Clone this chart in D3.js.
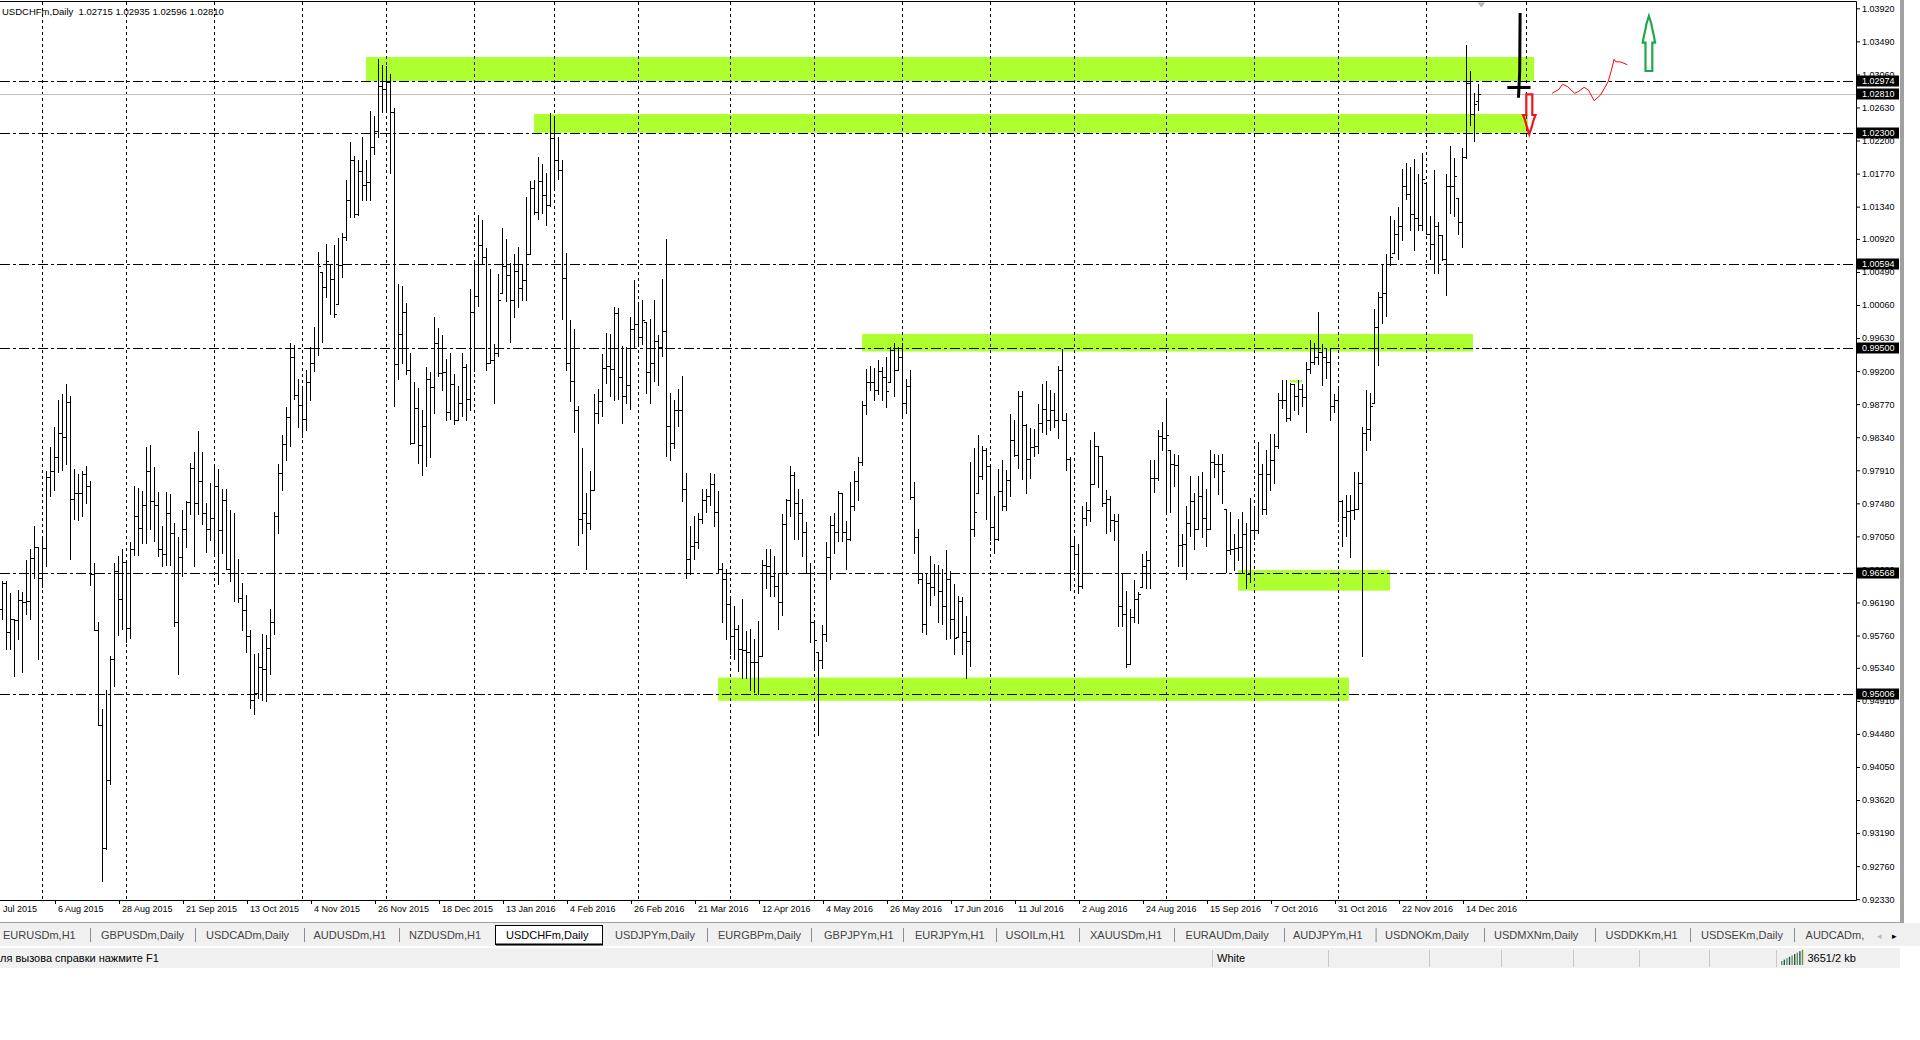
<!DOCTYPE html>
<html><head><meta charset="utf-8">
<script src="https://cdn.jsdelivr.net/npm/d3@7"></script>
<style>
html,body{margin:0;padding:0;background:#fff;}
svg{display:block;font-family:"Liberation Sans",Arial,sans-serif;}
</style></head><body>
<svg id="c" width="1920" height="1040"></svg>
<script>
// ---------------- DATA (USDCHFm, Daily) ----------------
const high=[0.9647,0.9647,0.9631,0.9597,0.9635,0.9632,0.9674,0.9689,0.9718,0.9691,
0.9704,0.9790,0.9821,0.9847,0.9883,0.9890,0.9903,0.9888,0.9793,0.9786,
0.9790,0.9797,0.9777,0.9671,0.9594,0.9480,0.9505,0.9550,0.9671,0.9679,
0.9689,0.9672,0.9698,0.9770,0.9768,0.9764,0.9821,0.9824,0.9795,0.9763,
0.9718,0.9763,0.9760,0.9723,0.9704,0.9739,0.9751,0.9801,0.9815,0.9842,
0.9815,0.9749,0.9775,0.9796,0.9793,0.9766,0.9766,0.9739,0.9736,0.9675,
0.9645,0.9629,0.9583,0.9552,0.9553,0.9578,0.9577,0.9610,0.9737,0.9799,
0.9837,0.9873,0.9957,0.9954,0.9910,0.9899,0.9921,0.9951,0.9978,1.0075,
1.0049,1.0086,1.0059,1.0084,1.0093,1.0100,1.0169,1.0218,1.0200,1.0194,
1.0225,1.0194,1.0259,1.0252,1.0326,1.0318,1.0317,1.0306,1.0262,1.0033,
1.0031,1.0009,0.9944,0.9906,0.9898,0.9870,0.9925,0.9919,0.9991,0.9976,
0.9967,0.9936,0.9944,0.9916,0.9901,0.9943,0.9929,1.0027,1.0064,1.0123,
1.0117,1.0080,1.0053,0.9955,1.0046,1.0106,1.0092,1.0061,1.0073,1.0082,
1.0059,1.0147,1.0167,1.0168,1.0199,1.0189,1.0178,1.0256,1.0252,1.0224,
1.0194,1.0074,0.9986,0.9975,0.9874,0.9820,0.9762,0.9790,0.9890,0.9897,
0.9942,0.9970,0.9968,1.0004,1.0002,0.9953,0.9952,0.9990,1.0039,1.0010,
1.0013,0.9984,0.9988,1.0013,0.9967,1.0040,1.0092,0.9891,0.9882,0.9897,
0.9914,0.9788,0.9718,0.9732,0.9736,0.9767,0.9767,0.9788,0.9786,0.9764,
0.9670,0.9663,0.9627,0.9615,0.9590,0.9623,0.9582,0.9584,0.9571,0.9595,
0.9674,0.9688,0.9688,0.9679,0.9658,0.9734,0.9753,0.9797,0.9789,0.9767,
0.9753,0.9724,0.9670,0.9593,0.9554,0.9590,0.9698,0.9731,0.9735,0.9764,
0.9762,0.9725,0.9776,0.9790,0.9808,0.9881,0.9923,0.9927,0.9924,0.9935,
0.9926,0.9938,0.9951,0.9956,0.9952,0.9956,0.9910,0.9922,0.9776,0.9715,
0.9658,0.9658,0.9679,0.9669,0.9668,0.9663,0.9687,0.9660,0.9643,0.9627,
0.9626,0.9602,0.9802,0.9820,0.9837,0.9823,0.9820,0.9798,0.9758,0.9793,
0.9805,0.9791,0.9864,0.9856,0.9894,0.9894,0.9851,0.9846,0.9845,0.9877,
0.9903,0.9907,0.9895,0.9891,0.9927,0.9949,0.9865,0.9808,0.9704,0.9695,
0.9745,0.9750,0.9830,0.9841,0.9822,0.9809,0.9765,0.9758,0.9734,0.9734,
0.9656,0.9634,0.9611,0.9648,0.9633,0.9682,0.9686,0.9805,0.9805,0.9843,
0.9854,0.9884,0.9818,0.9812,0.9811,0.9708,0.9745,0.9783,0.9761,0.9784,
0.9789,0.9767,0.9817,0.9812,0.9811,0.9812,0.9740,0.9737,0.9708,0.9728,
0.9737,0.9722,0.9755,0.9744,0.9828,0.9799,0.9818,0.9838,0.9838,0.9892,
0.9908,0.9908,0.9905,0.9903,0.9908,0.9903,0.9932,0.9960,0.9957,0.9997,
0.9955,0.9949,0.9949,0.9890,0.9900,0.9752,0.9759,0.9759,0.9789,0.9789,
0.9847,0.9896,0.9892,1.0001,1.0023,1.0059,1.0073,1.0122,1.0116,1.0134,
1.0183,1.0191,1.0185,1.0196,1.0176,1.0204,1.0165,1.0122,1.0181,1.0114,
1.0097,1.0177,1.0213,1.0197,1.0145,1.0210,1.0344,1.0311,1.0282,1.02935];

const low=[0.9598,0.9558,0.9559,0.9523,0.9571,0.9528,0.9604,0.9597,0.9651,0.9546,
0.9639,0.9667,0.9757,0.9765,0.9789,0.9791,0.9799,0.9676,0.9727,0.9726,
0.9732,0.9749,0.9642,0.9583,0.9459,0.9257,0.9298,0.9383,0.9510,0.9577,
0.9585,0.9567,0.9573,0.9681,0.9681,0.9697,0.9697,0.9714,0.9699,0.9679,
0.9666,0.9668,0.9668,0.9589,0.9526,0.9653,0.9691,0.9734,0.9667,0.9734,
0.9721,0.9685,0.9700,0.9683,0.9643,0.9684,0.9663,0.9647,0.9621,0.9620,
0.9583,0.9554,0.9482,0.9474,0.9495,0.9492,0.9491,0.9526,0.9578,0.9709,
0.9765,0.9804,0.9823,0.9884,0.9847,0.9834,0.9843,0.9883,0.9920,0.9941,
0.9958,1.0017,0.9994,0.9990,1.0007,1.0042,1.0090,1.0120,1.0120,1.0123,
1.0142,1.0142,1.0142,1.0202,1.0224,1.0257,1.0259,1.0178,0.9874,0.9910,
0.9931,0.9916,0.9825,0.9827,0.9801,0.9785,0.9796,0.9808,0.9866,0.9913,
0.9895,0.9857,0.9858,0.9851,0.9856,0.9862,0.9856,0.9870,0.9920,1.0005,
1.0061,0.9922,0.9931,0.9879,0.9940,1.0021,1.0011,0.9958,0.9990,1.0003,
1.0013,1.0013,1.0072,1.0125,1.0118,1.0126,1.0110,1.0135,1.0157,1.0170,
0.9988,0.9922,0.9881,0.9841,0.9694,0.9710,0.9662,0.9715,0.9765,0.9853,
0.9861,0.9905,0.9887,0.9883,0.9884,0.9853,0.9878,0.9871,0.9950,0.9956,
0.9955,0.9892,0.9878,0.9907,0.9902,0.9940,0.9809,0.9804,0.9820,0.9849,
0.9751,0.9651,0.9656,0.9675,0.9690,0.9723,0.9737,0.9746,0.9719,0.9658,
0.9593,0.9571,0.9552,0.9546,0.9530,0.9521,0.9521,0.9505,0.9502,0.9500,
0.9549,0.9638,0.9627,0.9627,0.9585,0.9603,0.9656,0.9732,0.9702,0.9702,
0.9680,0.9658,0.9568,0.9532,0.9446,0.9534,0.9569,0.9650,0.9684,0.9699,
0.9699,0.9663,0.9700,0.9739,0.9752,0.9798,0.9864,0.9895,0.9882,0.9890,
0.9883,0.9873,0.9906,0.9887,0.9922,0.9859,0.9865,0.9754,0.9683,0.9645,
0.9581,0.9578,0.9616,0.9629,0.9594,0.9591,0.9571,0.9573,0.9552,0.9574,
0.9552,0.9521,0.9536,0.9706,0.9762,0.9780,0.9728,0.9700,0.9683,0.9700,
0.9739,0.9739,0.9758,0.9810,0.9794,0.9780,0.9762,0.9781,0.9809,0.9813,
0.9841,0.9838,0.9843,0.9847,0.9833,0.9857,0.9792,0.9635,0.9662,0.9631,
0.9638,0.9720,0.9725,0.9773,0.9769,0.9745,0.9709,0.9712,0.9700,0.9588,
0.9588,0.9535,0.9539,0.9593,0.9592,0.9639,0.9638,0.9638,0.9763,0.9778,
0.9817,0.9737,0.9737,0.9770,0.9667,0.9667,0.9649,0.9706,0.9689,0.9714,
0.9704,0.9693,0.9714,0.9782,0.9760,0.9748,0.9659,0.9682,0.9661,0.9674,
0.9657,0.9638,0.9646,0.9701,0.9710,0.9734,0.9734,0.9765,0.9774,0.9820,
0.9872,0.9855,0.9857,0.9869,0.9864,0.9874,0.9841,0.9918,0.9929,0.9929,
0.9902,0.9911,0.9857,0.9867,0.9725,0.9693,0.9705,0.9678,0.9728,0.9741,
0.9549,0.9818,0.9830,0.9879,0.9928,0.9983,0.9992,1.0058,1.0074,1.0066,
1.0090,1.0144,1.0103,1.0077,1.0103,1.0104,1.0099,1.0066,1.0048,1.0047,
1.0064,1.0019,1.0126,1.0122,1.0099,1.0081,1.0197,1.0240,1.0220,1.02596];

const open=[0.9610,0.9645,0.9581,0.9597,0.9596,0.9622,0.9620,0.9621,0.9677,0.9691,
0.9651,0.9690,0.9782,0.9790,0.9808,0.9840,0.9834,0.9880,0.9753,0.9762,
0.9761,0.9786,0.9771,0.9656,0.9583,0.9459,0.9300,0.9388,0.9545,0.9660,
0.9624,0.9672,0.9586,0.9688,0.9732,0.9716,0.9746,0.9790,0.9751,0.9746,
0.9689,0.9682,0.9736,0.9710,0.9593,0.9678,0.9715,0.9750,0.9794,0.9749,
0.9777,0.9735,0.9715,0.9729,0.9771,0.9713,0.9752,0.9663,0.9658,0.9657,
0.9625,0.9609,0.9575,0.9492,0.9501,0.9535,0.9533,0.9560,0.9593,0.9731,
0.9788,0.9825,0.9860,0.9938,0.9889,0.9876,0.9858,0.9906,0.9931,0.9950,
1.0049,1.0030,1.0059,1.0040,1.0007,1.0058,1.0095,1.0143,1.0195,1.0124,
1.0180,1.0162,1.0166,1.0212,1.0233,1.0291,1.0287,1.0296,1.0257,0.9929,
0.9968,0.9997,0.9921,0.9827,0.9872,0.9824,0.9849,0.9910,0.9899,0.9957,
0.9917,0.9919,0.9867,0.9903,0.9856,0.9879,0.9926,0.9884,0.9997,1.0018,
1.0084,1.0069,0.9931,0.9935,0.9943,1.0021,1.0057,1.0045,1.0013,1.0050,
1.0028,1.0038,1.0072,1.0158,1.0127,1.0167,1.0149,1.0136,1.0223,1.0195,
1.0182,1.0041,0.9930,0.9907,0.9869,0.9728,0.9736,0.9723,0.9765,0.9866,
0.9881,0.9924,0.9927,0.9923,0.9996,0.9912,0.9887,0.9902,0.9975,0.9981,
0.9964,0.9984,0.9919,0.9931,0.9959,0.9952,0.9972,0.9849,0.9826,0.9870,
0.9870,0.9767,0.9675,0.9692,0.9698,0.9727,0.9752,0.9757,0.9773,0.9737,
0.9662,0.9650,0.9617,0.9576,0.9585,0.9559,0.9557,0.9555,0.9541,0.9541,
0.9550,0.9668,0.9667,0.9653,0.9641,0.9619,0.9721,0.9752,0.9785,0.9748,
0.9736,0.9711,0.9658,0.9593,0.9554,0.9544,0.9578,0.9678,0.9720,0.9711,
0.9761,0.9711,0.9701,0.9745,0.9777,0.9802,0.9876,0.9906,0.9906,0.9895,
0.9920,0.9912,0.9906,0.9947,0.9922,0.9938,0.9879,0.9900,0.9756,0.9704,
0.9650,0.9591,0.9645,0.9639,0.9658,0.9634,0.9615,0.9650,0.9597,0.9574,
0.9621,0.9581,0.9569,0.9715,0.9762,0.9784,0.9817,0.9796,0.9717,0.9702,
0.9764,0.9744,0.9779,0.9831,0.9811,0.9887,0.9850,0.9806,0.9821,0.9822,
0.9853,0.9871,0.9856,0.9869,0.9857,0.9922,0.9857,0.9806,0.9693,0.9682,
0.9640,0.9729,0.9739,0.9773,0.9822,0.9809,0.9748,0.9753,0.9726,0.9725,
0.9615,0.9604,0.9539,0.9600,0.9624,0.9639,0.9666,0.9674,0.9781,0.9781,
0.9835,0.9833,0.9818,0.9799,0.9798,0.9694,0.9695,0.9722,0.9751,0.9715,
0.9758,0.9729,0.9715,0.9802,0.9799,0.9799,0.9740,0.9687,0.9689,0.9690,
0.9691,0.9708,0.9656,0.9713,0.9713,0.9786,0.9740,0.9786,0.9805,0.9822,
0.9883,0.9882,0.9859,0.9903,0.9888,0.9897,0.9886,0.9923,0.9932,0.9939,
0.9945,0.9939,0.9932,0.9874,0.9883,0.9751,0.9730,0.9738,0.9739,0.9740,
0.9774,0.9839,0.9845,0.9879,0.9978,1.0016,1.0021,1.0060,1.0074,1.0098,
1.0109,1.0161,1.0150,1.0124,1.0119,1.0110,1.0165,1.0099,1.0085,1.0109,
1.0097,1.0066,1.0161,1.0161,1.0145,1.0114,1.0198,1.0295,1.0255,1.02715];

const close=[0.9645,0.9581,0.9597,0.9596,0.9622,0.9620,0.9621,0.9677,0.9691,0.9651,
0.9690,0.9782,0.9790,0.9808,0.9840,0.9834,0.9880,0.9753,0.9762,0.9761,
0.9786,0.9771,0.9656,0.9583,0.9459,0.9300,0.9388,0.9545,0.9660,0.9624,
0.9672,0.9586,0.9688,0.9732,0.9716,0.9746,0.9790,0.9751,0.9746,0.9689,
0.9682,0.9736,0.9710,0.9593,0.9678,0.9715,0.9750,0.9794,0.9749,0.9777,
0.9735,0.9715,0.9729,0.9771,0.9713,0.9752,0.9663,0.9658,0.9657,0.9625,
0.9609,0.9575,0.9492,0.9501,0.9535,0.9533,0.9560,0.9593,0.9731,0.9788,
0.9825,0.9860,0.9938,0.9889,0.9876,0.9858,0.9906,0.9931,0.9950,1.0057,
1.0030,1.0063,1.0040,0.9994,1.0058,1.0095,1.0143,1.0195,1.0124,1.0180,
1.0162,1.0166,1.0212,1.0233,1.0291,1.0287,1.0296,1.0257,0.9929,0.9968,
0.9997,0.9921,0.9827,0.9872,0.9824,0.9849,0.9910,0.9899,0.9957,0.9917,
0.9919,0.9867,0.9903,0.9856,0.9879,0.9926,0.9884,0.9997,1.0018,1.0084,
1.0069,0.9931,0.9935,0.9943,1.0012,1.0057,1.0045,1.0013,1.0050,1.0028,
1.0038,1.0072,1.0158,1.0127,1.0167,1.0149,1.0136,1.0223,1.0195,1.0182,
1.0041,0.9930,0.9907,0.9869,0.9728,0.9736,0.9723,0.9765,0.9866,0.9881,
0.9924,0.9927,0.9923,0.9996,0.9912,0.9887,0.9902,0.9975,0.9981,0.9964,
0.9987,0.9919,0.9931,0.9959,0.9952,0.9972,0.9849,0.9826,0.9870,0.9870,
0.9767,0.9675,0.9692,0.9698,0.9727,0.9752,0.9757,0.9773,0.9737,0.9662,
0.9650,0.9617,0.9576,0.9585,0.9559,0.9557,0.9555,0.9541,0.9541,0.9550,
0.9668,0.9667,0.9653,0.9641,0.9619,0.9721,0.9752,0.9785,0.9748,0.9736,
0.9711,0.9658,0.9594,0.9570,0.9544,0.9578,0.9678,0.9720,0.9711,0.9761,
0.9711,0.9701,0.9745,0.9777,0.9802,0.9876,0.9906,0.9906,0.9895,0.9920,
0.9912,0.9894,0.9947,0.9922,0.9938,0.9879,0.9900,0.9756,0.9704,0.9650,
0.9591,0.9645,0.9639,0.9658,0.9634,0.9615,0.9650,0.9597,0.9573,0.9621,
0.9581,0.9569,0.9715,0.9737,0.9784,0.9817,0.9796,0.9717,0.9702,0.9764,
0.9744,0.9779,0.9831,0.9811,0.9887,0.9850,0.9806,0.9821,0.9822,0.9853,
0.9871,0.9856,0.9869,0.9857,0.9922,0.9857,0.9806,0.9693,0.9682,0.9640,
0.9729,0.9739,0.9773,0.9822,0.9809,0.9748,0.9753,0.9726,0.9725,0.9615,
0.9604,0.9539,0.9600,0.9624,0.9630,0.9666,0.9674,0.9781,0.9781,0.9835,
0.9833,0.9837,0.9799,0.9798,0.9694,0.9695,0.9722,0.9751,0.9715,0.9758,
0.9729,0.9715,0.9802,0.9799,0.9799,0.9790,0.9687,0.9689,0.9690,0.9691,
0.9708,0.9656,0.9713,0.9713,0.9786,0.9740,0.9786,0.9805,0.9822,0.9883,
0.9882,0.9859,0.9903,0.9888,0.9897,0.9886,0.9923,0.9932,0.9939,0.9945,
0.9939,0.9932,0.9874,0.9883,0.9751,0.9730,0.9738,0.9739,0.9740,0.9774,
0.9839,0.9845,0.9875,0.9978,1.0016,1.0021,1.0060,1.0068,1.0098,1.0109,
1.0161,1.0150,1.0124,1.0119,1.0110,1.0170,1.0099,1.0085,1.0109,1.0097,
1.0066,1.0161,1.0161,1.0174,1.0114,1.0198,1.0295,1.0255,1.0267,1.02810];

// price axis ticks
const yTicks=[1.03920,1.03490,1.03060,1.02630,1.02200,1.01770,1.01340,1.00920,1.00490,1.00060,
0.99630,0.99200,0.98770,0.98340,0.97910,0.97480,0.97050,0.96620,0.96190,0.95760,
0.95340,0.94910,0.94480,0.94050,0.93620,0.93190,0.92760,0.92330];
// time axis labels (bar index of each label); the first one is cut by the left edge
const xTickBars=[-3,13,29,45,61,77,93,109,125,141,157,173,189,205,221,237,253,269,285,301,317,333,349,365];
const xTickLabels=["Jul 2015","6 Aug 2015","28 Aug 2015","21 Sep 2015","13 Oct 2015","4 Nov 2015",
"26 Nov 2015","18 Dec 2015","13 Jan 2016","4 Feb 2016","26 Feb 2016","21 Mar 2016","12 Apr 2016",
"4 May 2016","26 May 2016","17 Jun 2016","11 Jul 2016","2 Aug 2016","24 Aug 2016","15 Sep 2016",
"7 Oct 2016","31 Oct 2016","22 Nov 2016","14 Dec 2016"];
// first bar of each month (vertical grid)
const monthBars=[10,31,53,75,96,118,138,159,182,203,225,247,268,291,313,334,356,381];
// horizontal line objects
const levels=[1.02974,1.02300,1.00594,0.99500,0.96568,0.95006];
const bid=1.02810;
const header="USDCHFm,Daily  1.02715 1.02935 1.02596 1.02810";
// rectangle objects: [barFrom, barTo] and [priceLow, priceHigh]
const zoneBars=[[90.9,382.9],[132.9,381.4],[214.9,367.6],[308.9,346.9],[178.9,336.6],[321.9,324.9]];
const zonePrices=[[1.02974,1.03286],[1.02300,1.02545],[0.99455,0.99683],[0.96344,0.96613],[0.94911,0.95213],[0.99052,0.99084]];
// drawn annotations (bar index, price)
const blackStroke=[[379.4,1.03859],[379.3,1.03100],[379.0,1.02757]];
const blackCross=[[376.2,1.02890],[382.0,1.02890]];
const redPath=[[387.4,1.02814],[389.1,1.02866],[390.0,1.02931],[391.3,1.02900],[393.0,1.02814],[393.9,1.02835],
[395.4,1.02892],[396.5,1.02857],[397.9,1.02718],[399.5,1.02792],[400.8,1.02909],[401.4,1.02965],[402.2,1.03108],
[402.9,1.03257],[403.3,1.03225],[404.6,1.03221],[406.2,1.03186]];
const downArrow=[381.7,1.02281];
const upArrow=[411.6,1.03820];
// terminal tabs (last one is cut by the scroll arrows)
const tabs=["EURUSDm,H1","GBPUSDm,Daily","USDCADm,Daily","AUDUSDm,H1","NZDUSDm,H1","USDCHFm,Daily","USDJPYm,Daily",
"EURGBPm,Daily","GBPJPYm,H1","EURJPYm,H1","USOILm,H1","XAUUSDm,H1","EURAUDm,Daily","AUDJPYm,H1","USDNOKm,Daily",
"USDMXNm,Daily","USDDKKm,H1","USDSEKm,Daily","AUDCADm,"];
const activeTab="USDCHFm,Daily";

// ---------------- LAYOUT ----------------
const W=1920,H=1040, R=1856, B=900;
const tabX=[3,101,206,313.5,409,506,615,718,824,915,1005.6,1090,1185.6,1293,1385,1494,1605.6,1701,1805.6];
const tabSep=[90,195,304,399,707,811,903,996,1079,1174,1284,1375.6,1484,1595,1690,1794];
const svg=d3.select("#c");

const x=d3.scaleLinear().domain([-0.625,463.375]).range([0,R]);
const y=d3.scaleLinear().domain([0.92330,1.03920]).range([899.2,8.3]);
const py=v=>Math.round(y(v))+0.5;
const col=i=>Math.round(x(i)-0.5);

const chart=svg.append("g");
chart.append("defs").append("clipPath").attr("id","clip").append("rect")
  .attr("x",0).attr("y",2).attr("width",R).attr("height",B-2);
const plot=chart.append("g").attr("clip-path","url(#clip)");

// rectangles (background objects)
const zones=zoneBars.map((b,i)=>({b0:b[0],b1:b[1],p0:zonePrices[i][0],p1:zonePrices[i][1]}));
plot.selectAll("rect.zone").data(zones).join("rect").attr("class","zone")
  .attr("x",d=>x(d.b0)).attr("width",d=>x(d.b1)-x(d.b0))
  .attr("y",d=>y(d.p1)).attr("height",d=>y(d.p0)-y(d.p1))
  .attr("fill","#adff2f");

// vertical month grid
const GRID_TOP=2;
plot.selectAll("line.grid").data(monthBars).join("line").attr("class","grid")
  .attr("x1",d=>col(d)+0.5).attr("x2",d=>col(d)+0.5).attr("y1",GRID_TOP).attr("y2",B)
  .attr("stroke","#000").attr("stroke-width",1).attr("stroke-dasharray","3,3");
// grid over rectangles is XOR-coloured
const gz=[];
zones.forEach(z=>monthBars.forEach(m=>{ if(m>z.b0 && m<z.b1) gz.push({m,z}); }));
plot.selectAll("line.gz").data(gz).join("line").attr("class","gz")
  .attr("x1",d=>col(d.m)+0.5).attr("x2",d=>col(d.m)+0.5)
  .attr("y1",d=>y(d.z.p1)).attr("y2",d=>y(d.z.p0))
  .attr("stroke","#5200d0").attr("stroke-dasharray","3,3")
  .attr("stroke-dashoffset",d=>y(d.z.p1)-GRID_TOP);

// bid line
plot.append("line").attr("x1",0).attr("x2",R).attr("y1",py(bid)).attr("y2",py(bid))
  .attr("stroke","#c0c0c0").attr("stroke-width",1);

// horizontal line objects (dash-dot)
plot.selectAll("line.lvl").data(levels).join("line").attr("class","lvl")
  .attr("x1",0).attr("x2",R).attr("y1",d=>py(d)).attr("y2",d=>py(d))
  .attr("stroke","#000").attr("stroke-width",1).attr("stroke-dasharray","10,3,3,3");

// OHLC bars
const bars=d3.range(close.length);
plot.append("path").attr("fill","none").attr("stroke","#000").attr("stroke-width",1)
  .attr("shape-rendering","crispEdges")
  .attr("d",bars.map(i=>{
     const c=col(i), xc=c+0.5;
     const yh=Math.round(y(high[i])), yl=Math.round(y(low[i]))+1;
     const yo=py(open[i]), yc=py(close[i]);
     return `M${xc},${yh}V${yl}M${c-2},${yo}H${c}M${c+1},${yc}H${c+3}`;
  }).join(""));

// annotations
const line=d3.line().x(d=>x(d[0])).y(d=>y(d[1]));
plot.append("path").attr("d",line(blackStroke)).attr("fill","none").attr("stroke","#000").attr("stroke-width",3);
plot.append("path").attr("d",line(blackCross)).attr("fill","none").attr("stroke","#000").attr("stroke-width",3);
plot.append("path").attr("d",line(redPath)).attr("fill","none").attr("stroke","#ff0000").attr("stroke-width",1);
// arrows (outline)
const upShape=[[0,0],[2.5,8],[3.2,12],[5,20],[6.2,26.7],[3.4,26.7],[3.4,55],[-3.4,55],[-3.4,26.7],[-6.2,26.7],[-5,20],[-3.2,12],[-2.5,8]];
const downShape=[[0,0],[-2.5,-7.6],[-4.3,-14.3],[-6.2,-19.3],[-3,-19.3],[-3,-40],[3,-40],[3,-19.3],[6.2,-19.3],[4.3,-14.3],[2.5,-7.6]];
plot.append("polygon").attr("points",upShape.map(p=>[x(upArrow[0])+p[0],y(upArrow[1])+p[1]].join(",")).join(" "))
  .attr("fill","none").attr("stroke","#22a84a").attr("stroke-width",2.2);
plot.append("polygon").attr("points",downShape.map(p=>[x(downArrow[0])+p[0],y(downArrow[1])+p[1]].join(",")).join(" "))
  .attr("fill","none").attr("stroke","#f0141e").attr("stroke-width",2.2);
// shift marker
plot.append("path").attr("d",`M${x(369.7)-4},2.5L${x(369.7)+4},2.5L${x(369.7)},7.5Z`).attr("fill","#b4b4b4");

// header
chart.append("text").attr("x",2).attr("y",14.5).attr("font-size","9.5px").attr("fill","#000")
  .attr("xml:space","preserve").text(header);

// price axis
const ya=chart.append("g").attr("transform",`translate(${R},0)`)
  .call(d3.axisRight(y).tickValues(yTicks).tickFormat(d3.format(".5f")).tickSize(4).tickSizeOuter(0));
ya.select(".domain").remove();
ya.selectAll("line").attr("stroke","#000");
ya.selectAll("text").attr("font-size","9px").attr("fill","#000").attr("x",6)
  .attr("font-family","'Liberation Sans',Arial,sans-serif");
// level labels
const lab=[...levels,bid];
const lg=chart.selectAll("g.lab").data(lab).join("g").attr("class","lab")
  .attr("transform",d=>`translate(${R},${py(d)})`);
lg.append("rect").attr("x",1).attr("y",-6).attr("width",42).attr("height",11).attr("fill","#000");
lg.append("text").attr("x",6).attr("dy","0.32em").attr("font-size","9px").attr("fill","#fff")
  .text(d=>d3.format(".5f")(d));

// time axis
const xa=chart.append("g").attr("transform",`translate(0,${B})`)
  .call(d3.axisBottom(x).tickValues(xTickBars).tickFormat((d,i)=>xTickLabels[i]).tickSize(4).tickSizeOuter(0));
xa.select(".domain").remove();
xa.selectAll("line").attr("stroke","#000").attr("transform","translate(0.5,0)");
xa.selectAll("text").attr("font-size","9px").attr("fill","#000").attr("text-anchor","start")
  .attr("x",(d,i)=>i===0?12:3).attr("y",6).attr("font-family","'Liberation Sans',Arial,sans-serif");

// frame
chart.append("path").attr("d",`M0,1.5H${R+0.5}V${B+0.5}H0`).attr("fill","none").attr("stroke","#000");
// right gray border of chart window
chart.append("rect").attr("x",1900).attr("y",0).attr("width",4).attr("height",922).attr("fill","#a0a0a0");

// ---------------- TABS + STATUS BAR ----------------
const ui=svg.append("g").attr("font-size","11px");
ui.append("rect").attr("x",0).attr("y",923).attr("width",W).attr("height",23).attr("fill","#f0f0f0");
ui.append("line").attr("x1",0).attr("x2",1904).attr("y1",922.5).attr("y2",922.5).attr("stroke","#a0a0a0");
const ai=tabs.indexOf(activeTab);
ui.append("rect").attr("x",495.5).attr("y",925.5).attr("width",107).attr("height",19).attr("fill","#fff")
  .attr("stroke","#000").attr("stroke-width",1);
ui.append("line").attr("x1",496).attr("x2",603).attr("y1",944.5).attr("y2",944.5).attr("stroke","#000").attr("stroke-width",2);
ui.selectAll("line.sep").data(tabSep).join("line").attr("class","sep")
  .attr("x1",d=>d+0.5).attr("x2",d=>d+0.5).attr("y1",928).attr("y2",942).attr("stroke","#8c8c8c");
ui.append("g").selectAll("text").data(tabs).join("text")
  .attr("x",(d,i)=>tabX[i]).attr("y",939).attr("fill",(d,i)=>i===ai?"#000":"#444").text(d=>d);
ui.append("text").attr("x",1877).attr("y",939).attr("fill","#bbb").attr("font-size","9px").text("◂");
ui.append("text").attr("x",1892).attr("y",939).attr("fill","#000").attr("font-size","9px").text("▸");
// status bar
ui.append("rect").attr("x",0).attr("y",948).attr("width",1900).attr("height",20).attr("fill","#f0f0f0");
ui.append("text").attr("x",0).attr("y",962).attr("fill","#000").text("ля вызова справки нажмите F1");
[1212,1327.5,1429,1500.6,1572.5,1639,1709,1775.6].forEach(s=>{
  ui.append("line").attr("x1",Math.round(s)+0.5).attr("x2",Math.round(s)+0.5).attr("y1",950).attr("y2",967).attr("stroke","#c8c8c8");
});
ui.append("text").attr("x",1217).attr("y",962).attr("fill","#000").text("White");
const ic=ui.append("g").attr("transform","translate(1781,951)");
d3.range(9).forEach(k=>{
  const h=4+k*1.4;
  ic.append("rect").attr("x",k*2.6).attr("y",14-h).attr("width",1.4).attr("height",h).attr("fill",k%2?"#1e4f8c":"#6a9a1f");
});
ui.append("text").attr("x",1807.5).attr("y",962).attr("fill","#000").text("3651/2 kb");
</script>
</body></html>
